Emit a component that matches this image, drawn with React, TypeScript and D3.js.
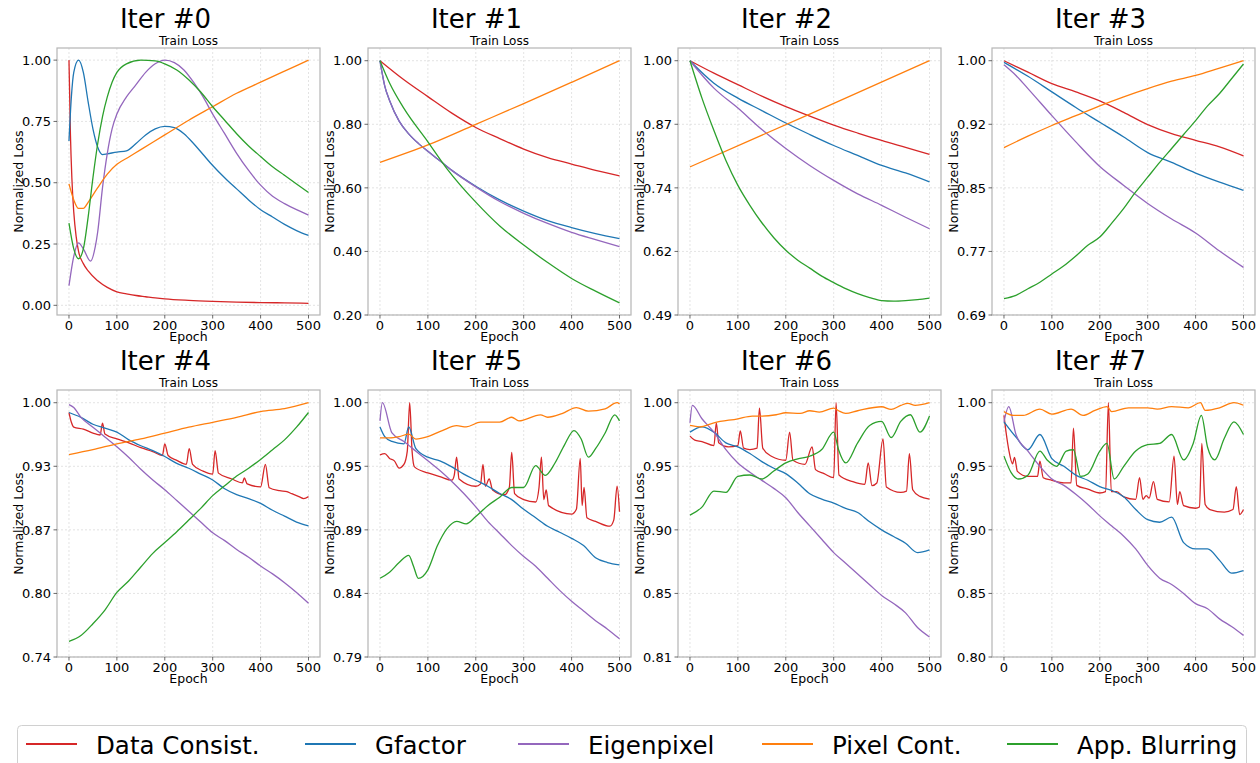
import React from "react";
import * as d3 from "d3";

// ---- data (epoch, normalized loss) ----
const SERIES_NAMES = ["Data Consist.", "Gfactor", "Eigenpixel", "Pixel Cont.", "App. Blurring"];
const SERIES_COLORS = ["#d62728", "#1f77b4", "#9467bd", "#ff7f0e", "#2ca02c"];
const ITER_TITLES = ["Iter #0", "Iter #1", "Iter #2", "Iter #3", "Iter #4", "Iter #5", "Iter #6", "Iter #7"];
const EPOCH_TICKS = [0, 100, 200, 300, 400, 500];

// lower y limit of each panel (panel 0 uses its own ticks)
const Y_LOWS = [-0.0395, 0.2, 0.49, 0.69, 0.74, 0.79, 0.81, 0.8];
const Y_TICK_LABELS = [
  ["0.00", "0.25", "0.50", "0.75", "1.00"],
  ["0.20", "0.40", "0.60", "0.80", "1.00"],
  ["0.49", "0.62", "0.74", "0.87", "1.00"],
  ["0.69", "0.77", "0.85", "0.92", "1.00"],
  ["0.74", "0.80", "0.87", "0.93", "1.00"],
  ["0.79", "0.84", "0.89", "0.95", "1.00"],
  ["0.81", "0.85", "0.90", "0.95", "1.00"],
  ["0.80", "0.85", "0.90", "0.95", "1.00"],
];

type Pt = [number, number];

// order in each list: Data Consist., Gfactor, Eigenpixel, Pixel Cont., App. Blurring
const iter0: Pt[][] = [
  [[0, 1.0], [3, 0.7], [6, 0.52], [10, 0.38], [15, 0.28], [20, 0.22], [30, 0.17], [40, 0.14], [60, 0.1], [80, 0.073], [100, 0.055], [120, 0.047], [140, 0.04], [160, 0.035], [180, 0.03], [200, 0.026], [250, 0.02], [300, 0.016], [350, 0.013], [400, 0.011], [450, 0.01], [500, 0.008]],
  [[0, 0.67], [5, 0.85], [10, 0.95], [20, 1.0], [30, 0.95], [40, 0.83], [50, 0.72], [60, 0.645], [70, 0.615], [80, 0.618], [100, 0.625], [120, 0.63], [140, 0.66], [160, 0.695], [180, 0.72], [200, 0.73], [220, 0.725], [240, 0.7], [260, 0.66], [280, 0.615], [300, 0.57], [325, 0.52], [350, 0.475], [375, 0.43], [400, 0.39], [425, 0.36], [450, 0.33], [475, 0.305], [500, 0.285]],
  [[0, 0.08], [10, 0.2], [20, 0.255], [30, 0.23], [45, 0.18], [55, 0.24], [60, 0.3], [70, 0.48], [80, 0.62], [90, 0.72], [100, 0.78], [120, 0.85], [140, 0.9], [160, 0.95], [180, 0.985], [200, 1.0], [220, 0.99], [240, 0.96], [260, 0.91], [280, 0.85], [300, 0.78], [325, 0.7], [350, 0.62], [375, 0.55], [400, 0.49], [425, 0.445], [450, 0.415], [475, 0.39], [500, 0.368]],
  [[0, 0.495], [10, 0.43], [20, 0.395], [30, 0.395], [40, 0.42], [60, 0.48], [80, 0.535], [100, 0.575], [125, 0.605], [150, 0.635], [200, 0.695], [250, 0.755], [300, 0.81], [350, 0.865], [400, 0.91], [450, 0.955], [500, 1.0]],
  [[0, 0.335], [10, 0.23], [20, 0.19], [30, 0.23], [40, 0.36], [50, 0.52], [60, 0.66], [70, 0.77], [80, 0.85], [90, 0.91], [100, 0.95], [120, 0.985], [150, 1.0], [180, 0.997], [200, 0.985], [225, 0.96], [250, 0.92], [275, 0.87], [300, 0.81], [325, 0.755], [350, 0.7], [375, 0.65], [400, 0.607], [425, 0.565], [450, 0.53], [475, 0.495], [500, 0.46]],
];

const iter1: Pt[][] = [
  [[0, 1.0], [50, 0.94], [100, 0.887], [150, 0.835], [200, 0.79], [250, 0.755], [300, 0.722], [350, 0.695], [400, 0.675], [450, 0.655], [500, 0.638]],
  [[0, 1.0], [10, 0.92], [20, 0.875], [40, 0.81], [60, 0.77], [80, 0.74], [100, 0.715], [125, 0.685], [150, 0.655], [200, 0.605], [250, 0.562], [300, 0.527], [350, 0.497], [400, 0.475], [450, 0.456], [500, 0.44]],
  [[0, 1.0], [10, 0.92], [20, 0.875], [40, 0.81], [60, 0.77], [80, 0.74], [100, 0.715], [125, 0.685], [150, 0.655], [200, 0.603], [250, 0.557], [300, 0.52], [350, 0.488], [400, 0.46], [450, 0.437], [500, 0.415]],
  [[0, 0.68], [100, 0.735], [200, 0.8], [300, 0.865], [400, 0.932], [500, 1.0]],
  [[0, 1.0], [20, 0.93], [50, 0.85], [100, 0.745], [140, 0.66], [200, 0.555], [250, 0.48], [300, 0.42], [350, 0.365], [400, 0.315], [450, 0.275], [500, 0.238]],
];

const iter2: Pt[][] = [
  [[0, 1.0], [50, 0.975], [100, 0.952], [150, 0.929], [200, 0.908], [250, 0.889], [300, 0.871], [350, 0.855], [400, 0.84], [450, 0.826], [500, 0.812]],
  [[0, 1.0], [50, 0.955], [100, 0.925], [150, 0.9], [200, 0.875], [250, 0.852], [300, 0.83], [350, 0.81], [400, 0.79], [450, 0.775], [500, 0.757]],
  [[0, 1.0], [50, 0.945], [100, 0.905], [150, 0.862], [200, 0.824], [250, 0.79], [300, 0.76], [350, 0.733], [400, 0.71], [450, 0.686], [500, 0.663]],
  [[0, 0.787], [250, 0.893], [500, 1.0]],
  [[0, 1.0], [25, 0.925], [50, 0.86], [75, 0.8], [100, 0.75], [125, 0.71], [150, 0.675], [175, 0.645], [200, 0.62], [225, 0.6], [250, 0.584], [275, 0.568], [300, 0.555], [325, 0.543], [350, 0.533], [375, 0.525], [400, 0.519], [425, 0.518], [450, 0.519], [475, 0.521], [500, 0.524]],
];

const iter3: Pt[][] = [
  [[0, 1.0], [50, 0.986], [100, 0.972], [150, 0.962], [200, 0.951], [250, 0.937], [300, 0.922], [350, 0.911], [400, 0.903], [450, 0.895], [500, 0.884]],
  [[0, 0.998], [50, 0.981], [100, 0.962], [150, 0.943], [200, 0.925], [250, 0.907], [300, 0.888], [350, 0.876], [400, 0.863], [450, 0.852], [500, 0.842]],
  [[0, 0.995], [25, 0.982], [50, 0.966], [100, 0.933], [150, 0.901], [200, 0.871], [250, 0.848], [300, 0.826], [350, 0.807], [400, 0.79], [450, 0.768], [500, 0.748]],
  [[0, 0.894], [50, 0.908], [100, 0.921], [150, 0.933], [200, 0.945], [250, 0.956], [300, 0.966], [350, 0.975], [400, 0.982], [450, 0.991], [500, 1.0]],
  [[0, 0.71], [25, 0.714], [50, 0.722], [75, 0.73], [100, 0.74], [125, 0.75], [150, 0.762], [175, 0.775], [200, 0.785], [225, 0.802], [250, 0.82], [275, 0.84], [300, 0.858], [325, 0.876], [350, 0.893], [375, 0.91], [400, 0.927], [425, 0.945], [450, 0.96], [475, 0.978], [500, 0.996]],
];

const iter4: Pt[][] = [
  [[0, 0.99], [5, 0.98], [10, 0.975], [30, 0.973], [50, 0.969], [65, 0.967], [70, 0.979], [75, 0.968], [100, 0.963], [125, 0.959], [150, 0.954], [175, 0.95], [195, 0.946], [200, 0.958], [207, 0.946], [225, 0.941], [245, 0.937], [251, 0.953], [258, 0.937], [280, 0.93], [300, 0.927], [305, 0.951], [312, 0.928], [340, 0.922], [362, 0.918], [366, 0.923], [372, 0.917], [400, 0.914], [410, 0.937], [418, 0.913], [440, 0.91], [455, 0.909], [465, 0.907], [480, 0.904], [490, 0.902], [500, 0.904]],
  [[0, 0.99], [25, 0.985], [50, 0.978], [75, 0.974], [100, 0.97], [125, 0.962], [150, 0.956], [175, 0.951], [200, 0.945], [225, 0.938], [250, 0.933], [275, 0.927], [300, 0.921], [325, 0.912], [350, 0.906], [375, 0.902], [400, 0.897], [425, 0.89], [450, 0.884], [475, 0.878], [500, 0.874]],
  [[0, 0.998], [10, 0.995], [25, 0.985], [50, 0.975], [75, 0.965], [100, 0.955], [125, 0.944], [150, 0.932], [175, 0.921], [200, 0.911], [225, 0.9], [250, 0.889], [275, 0.878], [300, 0.867], [325, 0.859], [350, 0.85], [375, 0.842], [400, 0.833], [425, 0.825], [450, 0.816], [475, 0.806], [500, 0.795]],
  [[0, 0.947], [50, 0.952], [100, 0.958], [150, 0.963], [200, 0.969], [250, 0.975], [300, 0.98], [350, 0.985], [400, 0.991], [450, 0.994], [500, 1.0]],
  [[0, 0.756], [25, 0.762], [50, 0.774], [75, 0.788], [100, 0.806], [125, 0.818], [150, 0.832], [175, 0.846], [200, 0.857], [225, 0.868], [250, 0.88], [275, 0.892], [300, 0.905], [325, 0.915], [350, 0.925], [375, 0.933], [400, 0.942], [425, 0.952], [450, 0.962], [475, 0.975], [500, 0.99]],
];

const iter5: Pt[][] = [
  [[0, 0.957], [10, 0.958], [20, 0.954], [30, 0.952], [40, 0.946], [50, 0.949], [57, 0.96], [62, 1.0], [67, 0.96], [72, 0.947], [100, 0.942], [125, 0.939], [150, 0.936], [155, 0.94], [160, 0.955], [165, 0.937], [200, 0.931], [210, 0.933], [215, 0.949], [220, 0.931], [228, 0.937], [235, 0.928], [260, 0.924], [270, 0.93], [275, 0.959], [281, 0.925], [300, 0.92], [325, 0.918], [332, 0.93], [337, 0.955], [342, 0.92], [347, 0.928], [352, 0.915], [400, 0.908], [410, 0.912], [418, 0.954], [422, 0.915], [426, 0.93], [432, 0.905], [450, 0.902], [480, 0.898], [488, 0.903], [495, 0.931], [500, 0.91]],
  [[0, 0.98], [10, 0.972], [25, 0.968], [50, 0.966], [60, 0.98], [75, 0.962], [100, 0.955], [125, 0.952], [150, 0.947], [175, 0.941], [200, 0.936], [225, 0.931], [250, 0.925], [275, 0.92], [300, 0.912], [325, 0.905], [350, 0.898], [375, 0.893], [400, 0.888], [425, 0.882], [450, 0.872], [475, 0.868], [500, 0.866]],
  [[0, 0.985], [5, 1.0], [25, 0.975], [50, 0.968], [75, 0.96], [100, 0.952], [125, 0.944], [150, 0.935], [175, 0.925], [200, 0.914], [225, 0.902], [250, 0.892], [275, 0.882], [300, 0.873], [325, 0.865], [350, 0.855], [375, 0.845], [400, 0.836], [425, 0.828], [450, 0.82], [475, 0.813], [500, 0.805]],
  [[0, 0.971], [20, 0.971], [40, 0.972], [60, 0.974], [75, 0.97], [100, 0.972], [130, 0.977], [160, 0.981], [180, 0.98], [210, 0.984], [250, 0.984], [275, 0.988], [290, 0.985], [335, 0.99], [350, 0.988], [380, 0.991], [410, 0.996], [435, 0.993], [470, 0.995], [495, 1.0], [500, 0.999]],
  [[0, 0.855], [20, 0.86], [40, 0.868], [60, 0.874], [70, 0.865], [80, 0.855], [100, 0.862], [120, 0.882], [140, 0.896], [160, 0.902], [180, 0.9], [200, 0.906], [225, 0.915], [250, 0.922], [275, 0.93], [300, 0.93], [325, 0.948], [345, 0.94], [365, 0.95], [385, 0.965], [405, 0.977], [420, 0.97], [435, 0.955], [450, 0.962], [470, 0.975], [490, 0.99], [500, 0.985]],
];

const iter6: Pt[][] = [
  [[0, 0.975], [10, 0.972], [25, 0.971], [50, 0.968], [55, 0.985], [60, 0.97], [80, 0.967], [100, 0.968], [105, 0.979], [112, 0.966], [125, 0.965], [140, 0.966], [145, 0.996], [152, 0.966], [170, 0.96], [200, 0.957], [208, 0.978], [215, 0.957], [240, 0.954], [255, 0.967], [262, 0.95], [280, 0.947], [300, 0.944], [305, 1.0], [311, 0.946], [340, 0.941], [365, 0.939], [372, 0.955], [380, 0.938], [390, 0.94], [403, 0.973], [410, 0.937], [440, 0.933], [452, 0.934], [458, 0.962], [465, 0.935], [480, 0.93], [500, 0.928]],
  [[0, 0.978], [25, 0.982], [50, 0.978], [75, 0.97], [100, 0.967], [125, 0.962], [150, 0.956], [175, 0.951], [200, 0.947], [225, 0.94], [250, 0.932], [275, 0.928], [300, 0.925], [325, 0.921], [350, 0.918], [375, 0.911], [400, 0.905], [425, 0.9], [450, 0.895], [475, 0.888], [500, 0.89]],
  [[0, 0.985], [5, 0.998], [25, 0.988], [50, 0.978], [75, 0.965], [100, 0.955], [125, 0.948], [150, 0.942], [175, 0.936], [200, 0.929], [225, 0.918], [250, 0.908], [275, 0.898], [300, 0.888], [325, 0.88], [350, 0.872], [375, 0.864], [400, 0.856], [425, 0.85], [450, 0.843], [475, 0.832], [500, 0.825]],
  [[0, 0.983], [20, 0.982], [50, 0.985], [100, 0.988], [130, 0.99], [150, 0.99], [180, 0.991], [200, 0.9925], [230, 0.992], [250, 0.994], [270, 0.993], [300, 0.996], [310, 0.994], [325, 0.992], [350, 0.994], [400, 0.997], [420, 0.995], [440, 0.998], [455, 0.9995], [470, 0.998], [500, 1.0]],
  [[0, 0.916], [25, 0.922], [50, 0.934], [75, 0.933], [100, 0.945], [125, 0.946], [150, 0.943], [175, 0.949], [200, 0.955], [225, 0.958], [250, 0.96], [275, 0.965], [300, 0.978], [310, 0.965], [325, 0.955], [350, 0.97], [375, 0.983], [400, 0.986], [420, 0.974], [440, 0.986], [460, 0.991], [480, 0.978], [500, 0.99]],
];

const iter7: Pt[][] = [
  [[0, 0.99], [5, 0.975], [10, 0.963], [18, 0.952], [22, 0.957], [28, 0.946], [50, 0.942], [70, 0.942], [75, 0.954], [82, 0.941], [100, 0.939], [125, 0.937], [140, 0.937], [145, 0.98], [152, 0.935], [175, 0.932], [200, 0.929], [212, 0.93], [218, 1.0], [224, 0.93], [235, 0.93], [250, 0.926], [275, 0.924], [283, 0.941], [290, 0.924], [297, 0.927], [303, 0.925], [312, 0.938], [320, 0.924], [345, 0.922], [355, 0.958], [362, 0.92], [367, 0.93], [375, 0.919], [400, 0.917], [408, 0.918], [413, 0.968], [420, 0.92], [430, 0.916], [460, 0.914], [478, 0.916], [485, 0.934], [492, 0.912], [500, 0.916]],
  [[0, 0.985], [25, 0.973], [50, 0.963], [75, 0.975], [100, 0.956], [125, 0.95], [150, 0.943], [175, 0.939], [200, 0.934], [225, 0.931], [250, 0.926], [275, 0.916], [300, 0.908], [325, 0.906], [350, 0.91], [375, 0.89], [400, 0.885], [425, 0.885], [450, 0.876], [475, 0.866], [500, 0.868]],
  [[0, 0.985], [10, 0.997], [25, 0.975], [50, 0.962], [75, 0.95], [100, 0.94], [125, 0.935], [150, 0.928], [175, 0.92], [200, 0.911], [225, 0.903], [250, 0.895], [275, 0.885], [300, 0.872], [325, 0.862], [350, 0.857], [375, 0.85], [400, 0.842], [425, 0.838], [450, 0.83], [475, 0.824], [500, 0.817]],
  [[0, 0.993], [20, 0.99], [40, 0.99], [75, 0.995], [100, 0.991], [140, 0.995], [165, 0.99], [190, 0.994], [215, 0.997], [225, 0.993], [260, 0.996], [300, 0.996], [320, 0.995], [350, 0.997], [385, 0.996], [410, 1.0], [420, 0.994], [450, 0.996], [480, 1.0], [500, 0.998]],
  [[0, 0.958], [15, 0.945], [30, 0.94], [50, 0.943], [75, 0.962], [90, 0.955], [110, 0.95], [130, 0.962], [145, 0.963], [160, 0.942], [175, 0.944], [200, 0.962], [215, 0.968], [230, 0.94], [250, 0.95], [275, 0.962], [300, 0.967], [325, 0.968], [350, 0.975], [375, 0.955], [395, 0.968], [412, 0.99], [425, 0.965], [440, 0.955], [460, 0.972], [480, 0.985], [500, 0.975]],
];

const ITERS = [iter0, iter1, iter2, iter3, iter4, iter5, iter6, iter7];

// ---- layout ----
const W = 1260;
const H = 763;
const COL_LEFT = [57, 368, 678, 992];
const ROW_TOP = [48, 390];
const PW = 263;
const PH = 267;
const FONT = "DejaVu Sans, Verdana, sans-serif";

const Panel = ({ idx }: { idx: number }) => {
  const left = COL_LEFT[idx % 4];
  const top = ROW_TOP[Math.floor(idx / 4)];
  const lo = Y_LOWS[idx];
  const hi = idx === 0 ? 1.0495 : 1 + (1 - lo) * 0.05;
  const x = d3.scaleLinear().domain([-25, 524]).range([0, PW]);
  const y = d3.scaleLinear().domain([lo, hi]).range([PH, 0]);
  const yTicks = idx === 0 ? [0, 0.25, 0.5, 0.75, 1] : d3.range(5).map((i) => lo + ((1 - lo) * i) / 4);
  const line = d3
    .line<Pt>()
    .x((d) => x(d[0]))
    .y((d) => y(d[1]))
    .curve(d3.curveMonotoneX);
  const clipId = `clip-${idx}`;

  return (
    <g transform={`translate(${left},${top})`}>
      <defs>
        <clipPath id={clipId}>
          <rect width={PW} height={PH} />
        </clipPath>
      </defs>
      <text x={PW / 2 - 23} y={-20} textAnchor="middle" fontSize={26}>
        {ITER_TITLES[idx]}
      </text>
      <text x={PW / 2} y={-3} textAnchor="middle" fontSize={12}>
        Train Loss
      </text>
      {/* grid */}
      {EPOCH_TICKS.map((t) => (
        <line key={"gx" + t} x1={x(t)} x2={x(t)} y1={0} y2={PH} stroke="#dcdcdc" strokeWidth={0.8} strokeDasharray="2,2" />
      ))}
      {yTicks.map((t, i) => (
        <line key={"gy" + i} x1={0} x2={PW} y1={y(t)} y2={y(t)} stroke="#dcdcdc" strokeWidth={0.8} strokeDasharray="2,2" />
      ))}
      {/* series */}
      <g clipPath={`url(#${clipId})`}>
        {ITERS[idx].map((s, i) => (
          <path key={i} d={line(s) || ""} fill="none" stroke={SERIES_COLORS[i]} strokeWidth={1.3} />
        ))}
      </g>
      <rect width={PW} height={PH} fill="none" stroke="#b5b5b5" strokeWidth={1.2} />
      {/* x axis */}
      {EPOCH_TICKS.map((t) => (
        <g key={"xt" + t} transform={`translate(${x(t)},${PH})`}>
          <line y2={3.5} stroke="#444" strokeWidth={0.8} />
          <text y={14.5} textAnchor="middle" fontSize={13}>
            {t}
          </text>
        </g>
      ))}
      <text x={PW / 2} y={PH + 26} textAnchor="middle" fontSize={12.5}>
        Epoch
      </text>
      {/* y axis */}
      {yTicks.map((t, i) => (
        <g key={"yt" + i} transform={`translate(0,${y(t)})`}>
          <line x2={-3.5} stroke="#444" strokeWidth={0.8} />
          <text x={-6} dy="0.36em" textAnchor="end" fontSize={13}>
            {Y_TICK_LABELS[idx][i]}
          </text>
        </g>
      ))}
      <text transform={`translate(${-34},${PH / 2}) rotate(-90)`} textAnchor="middle" fontSize={12.5}>
        Normalized Loss
      </text>
    </g>
  );
};

const LEGEND_X = [26, 305, 518, 762, 1007];

const App = () => {
  return (
    <svg
      width={W}
      height={H}
      style={{ position: "absolute", left: 0, top: 0, background: "#fff" }}
      fontFamily={FONT}
    >
      <rect width={W} height={H} fill="#fff" />
      {ITER_TITLES.map((_, i) => (
        <Panel key={i} idx={i} />
      ))}
      <rect x={17.5} y={725.5} width={1229} height={60} rx={4} fill="#fff" stroke="#d0d0d0" strokeWidth={1} />
      {SERIES_NAMES.map((name, i) => (
        <g key={name} transform={`translate(${LEGEND_X[i]},744)`}>
          <line x1={0} x2={51} stroke={SERIES_COLORS[i]} strokeWidth={2} />
          <text x={70} y={10} fontSize={24.5}>
            {name}
          </text>
        </g>
      ))}
    </svg>
  );
};

export default App;
